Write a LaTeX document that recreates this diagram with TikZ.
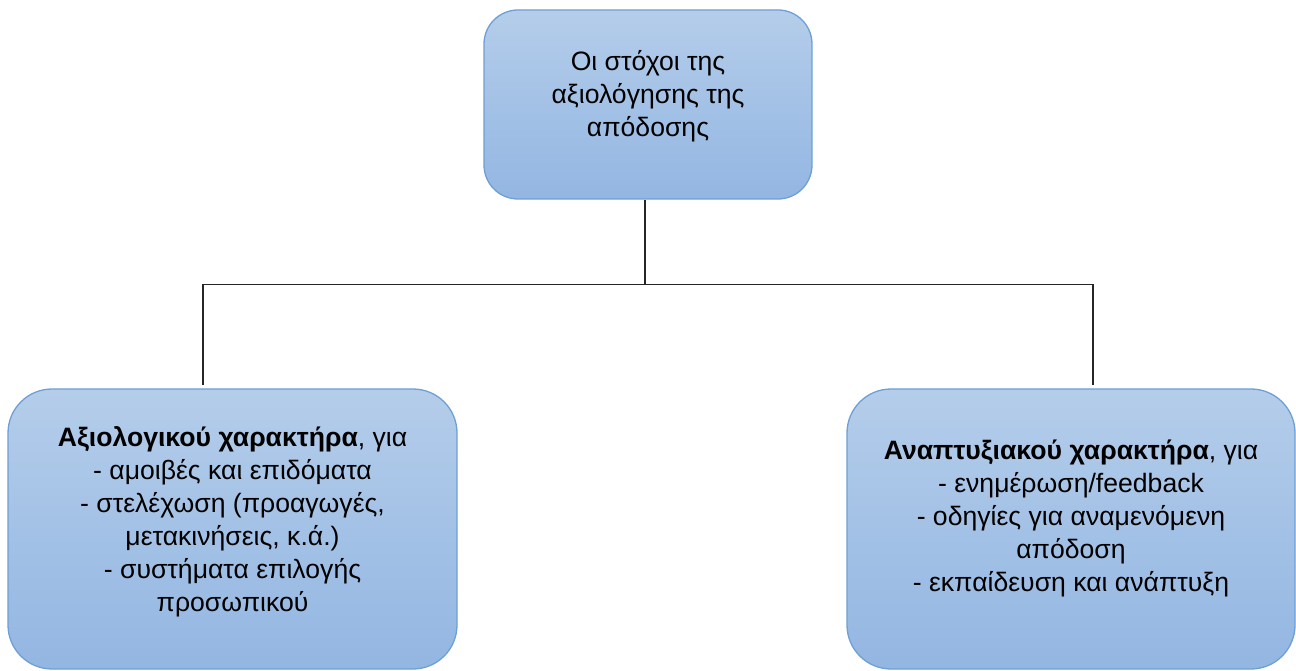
\documentclass[tikz,border=0pt]{standalone}
\usepackage{fontspec}
\setmainfont{Liberation Sans}
\begin{document}
\begin{tikzpicture}[x=1pt,y=1pt,
  goalbox/.style={draw=boxedge, line width=1.3pt, rounded corners=#1,
    top color=boxtop, bottom color=boxbottom, inner sep=0pt},
  goalbox/.default=36pt,
  boxtext/.style={align=center, font=\fontsize{26.6}{33}\selectfont, text=black, inner sep=0pt},
  link/.style={draw=black!85, line width=1.2pt}]
\definecolor{boxtop}{HTML}{B4CDEA}
\definecolor{boxbottom}{HTML}{93B6E2}
\definecolor{boxedge}{HTML}{6E9FD6}
\useasboundingbox (0,0) rectangle (1296,670);

% the three boxes
\node[goalbox=34pt, minimum width=328pt, minimum height=189pt] (top) at (648,565.5) {};
\node[goalbox=44pt, minimum width=449pt, minimum height=280pt] (left) at (232.5,141) {};
\node[goalbox=44pt, minimum width=448pt, minimum height=280pt] (right) at (1071,141) {};

% box texts
\node[boxtext] (toptext) at ([yshift=8pt]top.center)
  {Οι στόχοι της\\αξιολόγησης της\\απόδοσης};
\node[boxtext] (lefttext) at ([yshift=7pt]left.center)
  {\textbf{Αξιολογικού χαρακτήρα}, για\\- αμοιβές και επιδόματα\\- στελέχωση (προαγωγές,\\μετακινήσεις, κ.ά.)\\- συστήματα επιλογής\\προσωπικού};
\node[boxtext] (righttext) at ([yshift=11pt]right.center)
  {\textbf{Αναπτυξιακού χαρακτήρα}, για\\- ενημέρωση/feedback\\- οδηγίες για αναμενόμενη\\απόδοση\\- εκπαίδευση και ανάπτυξη};

% connector tree
\coordinate (hub) at (645,385.5);
\coordinate (lend) at (203,385.5);
\coordinate (rend) at (1093,385.5);
\draw[link] (top.south -| hub) -- (hub);
\draw[link] (lend) -- (rend);
\draw[link] (lend) -- ([yshift=3pt]left.north -| lend);
\draw[link] (rend) -- ([yshift=3pt]right.north -| rend);
\end{tikzpicture}
\end{document}
